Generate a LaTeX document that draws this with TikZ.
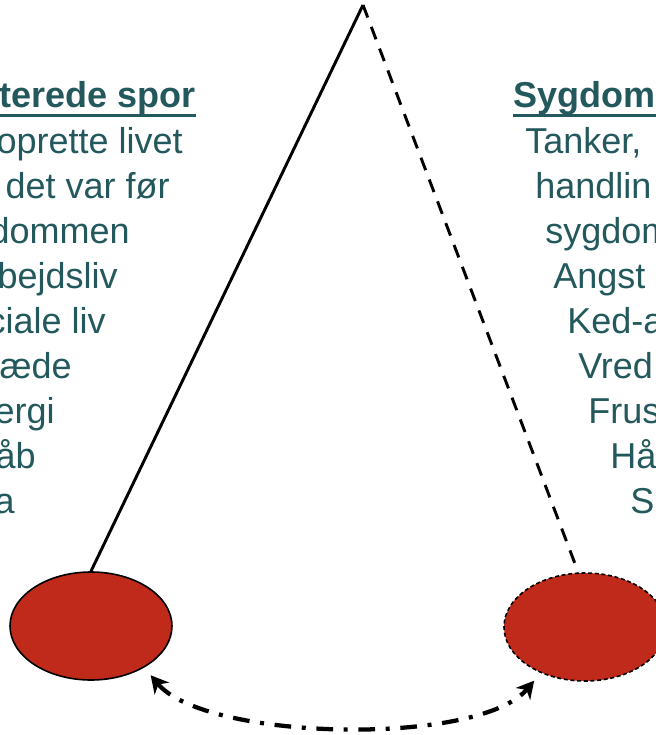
\documentclass[tikz,border=0pt]{standalone}
\usepackage{fontspec}
\setmainfont{Liberation Sans}
\usetikzlibrary{arrows.meta,shapes.geometric}
\definecolor{darkteal}{RGB}{35,88,92}
\definecolor{ballred}{RGB}{191,42,26}

\begin{document}
\begin{tikzpicture}[x=0.75pt,y=-0.75pt,
  every node/.style={font=\fontsize{27}{32}\selectfont,text=darkteal,inner sep=0pt},
  heading/.style={font=\fontsize{27}{32}\selectfont\bfseries},
  lefttxt/.style={anchor=base east},
  righttxt/.style={anchor=base west},
  ball/.style={ellipse,draw=black,line width=1.2pt,fill=ballred,minimum width=121.5pt,minimum height=81pt},
  underl/.style={darkteal,line width=2pt}]
\useasboundingbox (0,0) rectangle (656,735);
\clip (0,0) rectangle (656,735);
% pendulum
\coordinate (pivot) at (363,5);
\node[ball] (lball) at (91,626) {};
\node[ball,dashed,dash pattern=on 3pt off 2pt] (rball) at (585,627) {};
\draw[line width=2.2pt] (pivot) -- (lball.north);
\draw[line width=2.2pt,dash pattern=on 10pt off 7.5pt] (pivot) -- (rball.97);
\draw[line width=3.2pt,dash pattern=on 12.5pt off 8pt on 3pt off 8pt,{Stealth[length=13pt,width=14pt,inset=4pt]}-{Stealth[length=13pt,width=14pt,inset=4pt]},shorten <=7.5pt,shorten >=7.5pt] (lball.-38) .. controls +(-50:72pt) and +(-130:72pt) .. (rball.-134);
% left column
\node[lefttxt,heading] (lhead) at (196,108) {terede spor};
\draw[underl] ([yshift=-5.5pt]lhead.base west) -- ([yshift=-5.5pt]lhead.base east);
\node[lefttxt] (l1) at (183,153) {oprette livet};
\node[lefttxt] (l2) at (170,198) {det var før};
\node[lefttxt] (l3) at (130,243) {dommen};
\node[lefttxt] (l4) at (118,288) {bejdsliv};
\node[lefttxt] (l5) at (106,333) {ciale liv};
\node[lefttxt] (l6) at (72,378) {æde};
\node[lefttxt] (l7) at (55,423) {ergi};
\node[lefttxt] (l8) at (36,468) {åb};
\node[lefttxt] (l9) at (15,513) {a};
% right column
\node[righttxt,heading] (rhead) at (513,108) {Sygdom};
\draw[underl] ([yshift=-5.5pt]rhead.base west) -- ([yshift=-5.5pt]rhead.base east);
\node[righttxt] (r1) at (525,153) {Tanker,};
\node[righttxt] (r2) at (535,198) {handlin};
\node[righttxt] (r3) at (545,243) {sygdom};
\node[righttxt] (r4) at (553,288) {Angst};
\node[righttxt] (r5) at (567,333) {Ked-a};
\node[righttxt] (r6) at (578,378) {Vred};
\node[righttxt] (r7) at (588,423) {Frus};
\node[righttxt] (r8) at (610,468) {Hå};
\node[righttxt] (r9) at (630,513) {S};
\end{tikzpicture}
\end{document}
